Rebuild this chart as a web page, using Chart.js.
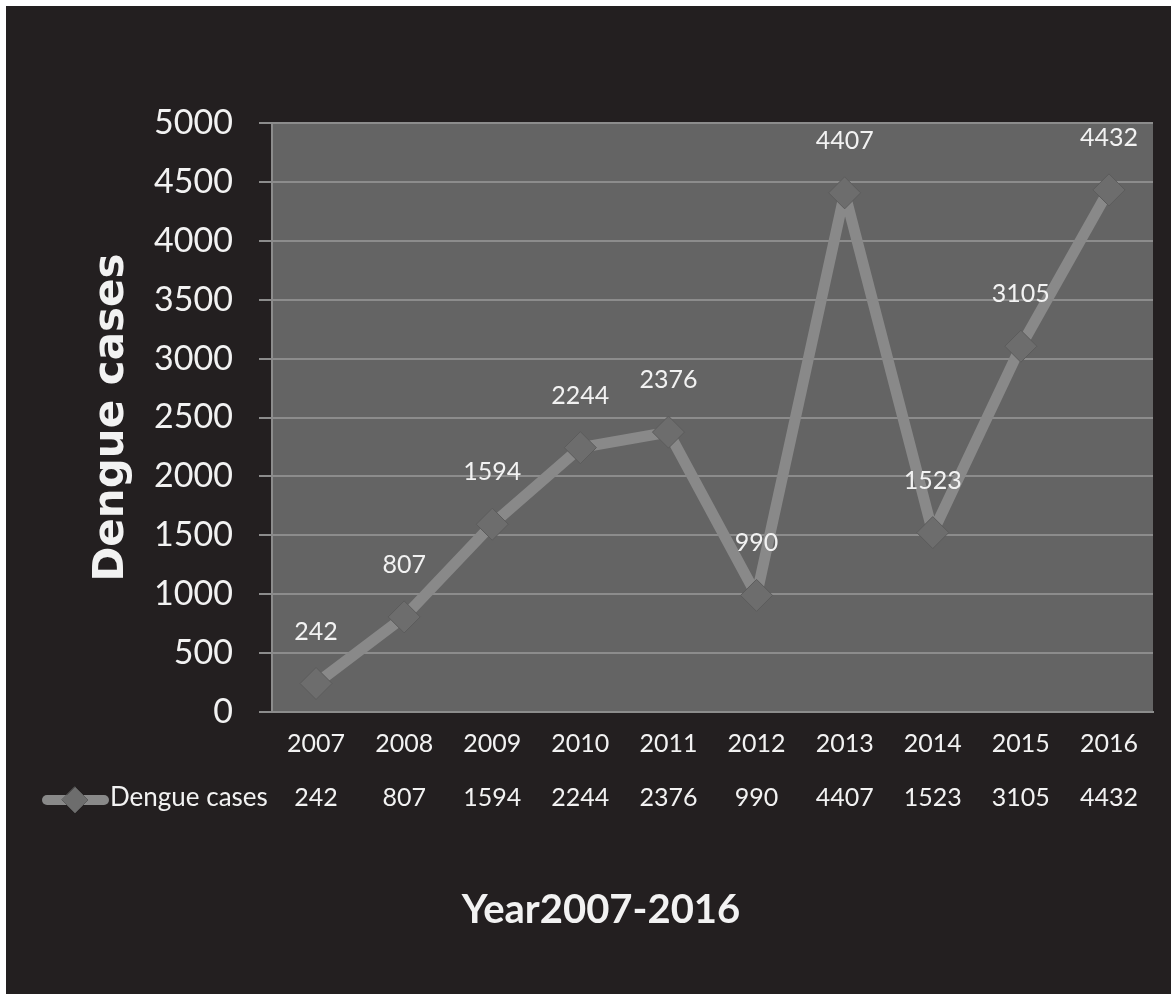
<!DOCTYPE html>
<html>
<head>
<meta charset="utf-8">
<script src="https://cdn.jsdelivr.net/npm/chart.js@4.4.1/dist/chart.umd.min.js"></script>
<style>
  html, body { margin: 0; padding: 0; background: #fff; }
  canvas { display: block; }
</style>
</head>
<body>
<canvas id="chart" width="1171" height="994"></canvas>
<script>
const years = ['2007', '2008', '2009', '2010', '2011', '2012', '2013', '2014', '2015', '2016'];
const dengueCases = [242, 807, 1594, 2244, 2376, 990, 4407, 1523, 3105, 4432];
const yTickValues = [0, 500, 1000, 1500, 2000, 2500, 3000, 3500, 4000, 4500, 5000];
const seriesName = 'Dengue cases';
const yTitle = 'Dengue cases';
const xTitle = 'Year2007-2016';

const FONT = "Lato, 'Open Sans', sans-serif";
const textColor = '#f2f2f2';
const gridColor = '#8c8c8c';
const lineColor = '#898989';
const markerColor = '#6d6d6d';

// black panel + grey plot area
const backdrop = {
  id: 'backdrop',
  beforeDraw(chart) {
    const { ctx, chartArea: a } = chart;
    ctx.save();
    ctx.fillStyle = '#ffffff';
    ctx.fillRect(0, 0, chart.width, chart.height);
    ctx.fillStyle = '#231f20';
    ctx.fillRect(6, 6, chart.width - 6, chart.height - 6);
    ctx.fillStyle = '#646464';
    ctx.fillRect(a.left, a.top, a.right - a.left, a.bottom - a.top);
    ctx.restore();
  }
};

// value labels above the markers
const pointLabels = {
  id: 'pointLabels',
  afterDatasetsDraw(chart) {
    const { ctx } = chart;
    const meta = chart.getDatasetMeta(0);
    ctx.save();
    ctx.font = `25px ${FONT}`;
    ctx.fillStyle = textColor;
    ctx.textAlign = 'center';
    ctx.textBaseline = 'middle';
    meta.data.forEach((pt, i) => {
      ctx.fillText(String(dengueCases[i]), pt.x, pt.y - 52);
    });
    ctx.restore();
  }
};

// data table row (legend key + values) and the x title
const dataTable = {
  id: 'dataTable',
  afterDraw(chart) {
    const { ctx } = chart;
    const x = chart.scales.x;
    const rowY = 798;
    ctx.save();
    // legend key
    ctx.strokeStyle = lineColor;
    ctx.lineWidth = 10;
    ctx.lineCap = 'round';
    ctx.beginPath();
    ctx.moveTo(47, rowY + 2);
    ctx.lineTo(104, rowY + 2);
    ctx.stroke();
    ctx.fillStyle = markerColor;
    ctx.strokeStyle = '#5c5c5c';
    ctx.lineWidth = 1;
    ctx.beginPath();
    ctx.moveTo(75, rowY + 2 - 13);
    ctx.lineTo(88, rowY + 2);
    ctx.lineTo(75, rowY + 2 + 13);
    ctx.lineTo(62, rowY + 2);
    ctx.closePath();
    ctx.fill();
    ctx.stroke();

    ctx.font = `26px ${FONT}`;
    ctx.fillStyle = textColor;
    ctx.textBaseline = 'middle';
    ctx.textAlign = 'left';
    ctx.fillText(seriesName, 110, rowY);
    ctx.textAlign = 'center';
    ctx.font = `25px ${FONT}`;
    dengueCases.forEach((v, i) => {
      ctx.fillText(String(v), x.getPixelForValue(i), rowY);
    });

    ctx.font = `bold 40px ${FONT}`;
    ctx.fillText(xTitle, 601, 910);
    ctx.restore();
  }
};

new Chart(document.getElementById('chart'), {
  type: 'line',
  data: {
    labels: years,
    datasets: [{
      label: seriesName,
      data: dengueCases,
      borderColor: lineColor,
      borderWidth: 11,
      borderJoinStyle: 'round',
      tension: 0,
      pointStyle: 'rectRot',
      pointRadius: 16,
      pointBackgroundColor: markerColor,
      pointBorderColor: '#5c5c5c',
      pointBorderWidth: 1
    }]
  },
  options: {
    responsive: false,
    animation: false,
    devicePixelRatio: 1,
    layout: { padding: { left: 0, right: 18, top: 123, bottom: 0 } },
    plugins: {
      legend: { display: false },
      tooltip: { enabled: false }
    },
    scales: {
      x: {
        offset: true,
        grid: { display: false },
        border: { display: true, color: gridColor, width: 2 },
        ticks: { color: textColor, font: { size: 25, family: FONT }, padding: 9, maxRotation: 0 },
        afterFit: (s) => { s.height = 282; }
      },
      y: {
        min: 0,
        max: 5000,
        afterBuildTicks: (s) => { s.ticks = yTickValues.map(v => ({ value: v })); },
        grid: { color: gridColor, lineWidth: 2, tickLength: 13 },
        border: { display: true, color: gridColor, width: 2 },
        ticks: {
          color: textColor,
          font: { size: 34, family: FONT },
          padding: 26,
          callback: (v) => String(v)
        },
        title: {
          display: true,
          text: yTitle,
          color: textColor,
          font: { size: 42, weight: 'bold', family: "'DejaVu Sans', sans-serif" },
          padding: { top: 87, bottom: 0 }
        },
        afterFit: (s) => { s.width = 272; }
      }
    }
  },
  plugins: [backdrop, pointLabels, dataTable]
});
</script>
</body>
</html>
